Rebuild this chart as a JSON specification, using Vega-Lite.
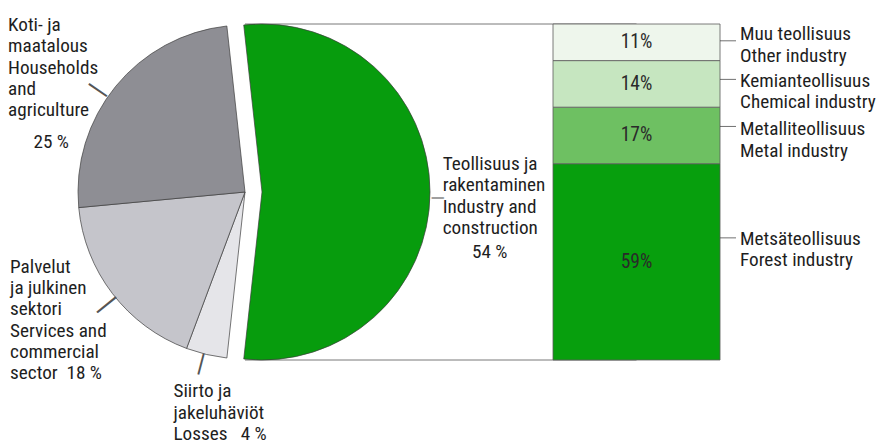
{
  "$schema": "https://vega.github.io/schema/vega-lite/v6.json",
  "width": 878,
  "height": 336,
  "autosize": {"type": "none"},
  "padding": {"left": 0, "top": 24, "right": 0, "bottom": 85},
  "background": "white",
  "config": {
    "view": {"stroke": null},
    "font": "Liberation Sans Narrow, Arial Narrow, Roboto Condensed, DejaVu Sans Condensed, sans-serif",
    "text": {"font": "Liberation Sans Narrow, Arial Narrow, Roboto Condensed, DejaVu Sans Condensed, sans-serif"}
  },
  "resolve": {"scale": {"color": "independent"}},
  "datasets": {
    "pie": [
      {"part": "Kokonaiskulutus", "sector": "Industry", "share": 54, "order": 1, "name": ["Teollisuus ja", "rakentaminen", "Industry and", "construction"], "pct": "54 %"},
      {"part": "Kokonaiskulutus", "sector": "Losses", "share": 4, "order": 2, "name": ["Siirto ja", "jakeluhäviöt", "Losses\u00a0\u00a0\u00a04 %"], "pct": ""},
      {"part": "Kokonaiskulutus", "sector": "Services", "share": 18, "order": 3, "name": ["Palvelut", "ja julkinen", "sektori", "Services and", "commercial", "sector\u00a0\u00a018 %"], "pct": ""},
      {"part": "Kokonaiskulutus", "sector": "Households", "share": 25, "order": 4, "name": ["Koti- ja", "maatalous", "Households", "and", "agriculture"], "pct": "25 %"}
    ],
    "bar": [
      {"part": "Teollisuus", "industry": "Forest", "share": 59, "order": 1, "pct": "59%", "label": ["Metsäteollisuus", "Forest industry"]},
      {"part": "Teollisuus", "industry": "Metal", "share": 17, "order": 2, "pct": "17%", "label": ["Metalliteollisuus", "Metal industry"]},
      {"part": "Teollisuus", "industry": "Chemical", "share": 14, "order": 3, "pct": "14%", "label": ["Kemianteollisuus", "Chemical industry"]},
      {"part": "Teollisuus", "industry": "Other", "share": 11, "order": 4, "pct": "11%", "label": ["Muu teollisuus", "Other industry"]}
    ]
  },
  "layer": [
    {
      "data": {"name": "bar"},
      "transform": [{"aggregate": [{"op": "sum", "field": "share", "as": "total"}]}],
      "layer": [
        {
          "mark": {"type": "rule", "stroke": "#555555", "strokeWidth": 0.8},
          "encoding": {
            "x": {"datum": "Kokonaiskulutus", "type": "nominal", "axis": null, "scale": {"type": "band", "domain": ["Kokonaiskulutus", "Teollisuus"], "paddingInner": 0.5734, "paddingOuter": 0.408, "align": 0.5055}},
            "x2": {"datum": "Teollisuus"},
            "y": {"field": "total", "type": "quantitative", "stack": null, "axis": null, "scale": {"domain": [0, 101], "nice": false}}
          }
        },
        {
          "mark": {"type": "rule", "stroke": "#555555", "strokeWidth": 0.8},
          "encoding": {
            "x": {"datum": "Kokonaiskulutus", "type": "nominal", "axis": null, "scale": {"type": "band", "domain": ["Kokonaiskulutus", "Teollisuus"], "paddingInner": 0.5734, "paddingOuter": 0.408, "align": 0.5055}},
            "x2": {"datum": "Teollisuus"},
            "y": {"datum": 0, "type": "quantitative", "axis": null, "scale": {"domain": [0, 101], "nice": false}}
          }
        }
      ]
    },
    {
      "data": {"name": "pie"},
      "encoding": {
        "x": {"field": "part", "type": "nominal", "axis": null, "scale": {"type": "band", "domain": ["Kokonaiskulutus", "Teollisuus"], "paddingInner": 0.5734, "paddingOuter": 0.408, "align": 0.5055}},
        "theta": {"field": "share", "type": "quantitative", "stack": true, "scale": {"domain": [0, 101], "range": [-0.1089, 6.1743]}},
        "order": {"field": "order", "type": "quantitative"},
        "detail": {"field": "sector", "type": "nominal"}
      },
      "layer": [
        {
          "mark": {"type": "arc", "outerRadius": 167, "stroke": "#3c3c3c", "strokeWidth": 0.7},
          "encoding": {
            "color": {"field": "sector", "type": "nominal", "legend": null, "scale": {"domain": ["Industry", "Losses", "Services", "Households"], "range": ["#079c0d", "#e5e5e9", "#c5c5cb", "#8e8e94"]}},
            "fillOpacity": {"condition": {"test": "datum.sector === 'Industry'", "value": 0}, "value": 1},
            "strokeOpacity": {"condition": {"test": "datum.sector === 'Industry'", "value": 0}, "value": 1}
          }
        },
        {
          "mark": {"type": "arc", "outerRadius": 168, "xOffset": 17, "stroke": "#3c3c3c", "strokeWidth": 0.7},
          "encoding": {
            "color": {"field": "sector", "type": "nominal", "legend": null, "scale": {"domain": ["Industry", "Losses", "Services", "Households"], "range": ["#079c0d", "#e5e5e9", "#c5c5cb", "#8e8e94"]}},
            "fillOpacity": {"condition": {"test": "datum.sector === 'Industry'", "value": 1}, "value": 0},
            "strokeOpacity": {"condition": {"test": "datum.sector === 'Industry'", "value": 1}, "value": 0}
          }
        },
        {
          "mark": {
            "type": "text", "radius": 179, "align": "center", "baseline": "middle", "color": "#555555",
            "dx": {"expr": "datum.sector === 'Households' ? -14.1 : datum.sector === 'Services' ? -5.4 : datum.sector === 'Losses' ? 3 : 6"},
            "dy": {"expr": "datum.sector === 'Households' ? -0.9 : datum.sector === 'Services' ? -0.2 : datum.sector === 'Losses' ? 1 : -12.5"}
          },
          "encoding": {
            "text": {"value": "|"},
            "angle": {"field": "order", "type": "quantitative", "legend": null, "scale": {"domain": [1, 2, 3, 4], "range": [90, 194.5, 230.8, 304.6]}},
            "size": {"field": "order", "type": "quantitative", "legend": null, "scale": {"domain": [1, 2, 3, 4], "range": [14, 26, 29, 26]}}
          }
        },
        {
          "mark": {
            "type": "text", "radius": 185, "align": "left", "baseline": "alphabetic", "fontSize": 19.2, "lineHeight": 21.3, "color": "#1e1e1e",
            "dx": {"expr": "datum.sector === 'Households' ? -93.6 : datum.sector === 'Services' ? -88 : datum.sector === 'Losses' ? -28.8 : 12.7"},
            "dy": {"expr": "datum.sector === 'Households' ? -44.1 : datum.sector === 'Services' ? -31.7 : datum.sector === 'Losses' ? 25.3 : -22"}
          },
          "encoding": {"text": {"field": "name"}}
        },
        {
          "mark": {
            "type": "text", "radius": 185, "align": "center", "baseline": "alphabetic", "fontSize": 19.2, "color": "#1e1e1e",
            "dx": {"expr": "datum.sector === 'Households' ? -50.4 : 59.7"},
            "dy": {"expr": "datum.sector === 'Households' ? 72.6 : 66.3"}
          },
          "encoding": {"text": {"field": "pct"}}
        }
      ]
    },
    {
      "data": {"name": "bar"},
      "encoding": {
        "x": {"field": "part", "type": "nominal", "axis": null, "scale": {"type": "band", "domain": ["Kokonaiskulutus", "Teollisuus"], "paddingInner": 0.5734, "paddingOuter": 0.408, "align": 0.5055}},
        "y": {"field": "share", "type": "quantitative", "stack": "zero", "axis": null, "scale": {"domain": [0, 101], "nice": false}},
        "order": {"field": "order", "type": "quantitative"},
        "detail": {"field": "industry", "type": "nominal"}
      },
      "layer": [
        {
          "mark": {"type": "bar", "stroke": "#5a5a5a", "strokeWidth": 0.8},
          "encoding": {
            "color": {"field": "industry", "type": "nominal", "legend": null, "scale": {"domain": ["Forest", "Metal", "Chemical", "Other"], "range": ["#079f0d", "#6ec062", "#c6e6c0", "#eef6ec"]}}
          }
        },
        {
          "mark": {"type": "text", "baseline": "middle", "align": "center", "fontSize": 19.5, "color": "#2a2a2a"},
          "encoding": {
            "y": {"field": "share", "type": "quantitative", "stack": "zero", "bandPosition": 0.5},
            "text": {"field": "pct"}
          }
        },
        {
          "mark": {"type": "tick", "orient": "horizontal", "size": 16, "thickness": 1, "color": "#333333",
            "xOffset": {"expr": "bandwidth('x')/2 + 8"},
            "yOffset": {"expr": "datum.industry === 'Forest' ? -24 : datum.industry === 'Metal' ? -9 : datum.industry === 'Chemical' ? -4.5 : -1.5"}},
          "encoding": {
            "y": {"field": "share", "type": "quantitative", "stack": "zero", "bandPosition": 0.5}
          }
        },
        {
          "mark": {"type": "text", "align": "left", "baseline": "alphabetic", "fontSize": 19.2, "lineHeight": 21.5, "color": "#1e1e1e", "dx": 20,
            "dy": {"expr": "datum.industry === 'Forest' ? -17 : datum.industry === 'Chemical' ? 3 : datum.industry === 'Other' ? -2 : 0"}},
          "encoding": {
            "x": {"field": "part", "type": "nominal", "bandPosition": 1},
            "y": {"field": "share", "type": "quantitative", "stack": "zero", "bandPosition": 0.5},
            "text": {"field": "label"}
          }
        }
      ]
    }
  ]
}
